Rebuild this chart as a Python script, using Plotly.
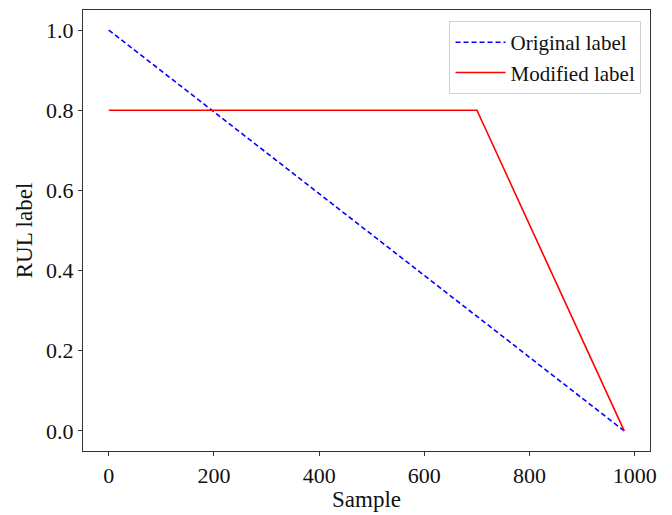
import plotly.graph_objects as go

orig_x = [0, 980]
orig_y = [1.0, 0.0]
mod_x = [0, 700, 980]
mod_y = [0.8, 0.8, 0.0]
x_ticks = [0, 200, 400, 600, 800, 1000]
y_ticks = [0.0, 0.2, 0.4, 0.6, 0.8, 1.0]

fig = go.Figure()
fig.add_trace(go.Scatter(x=orig_x, y=orig_y, mode="lines", name="Original label",
                         line=dict(color="#0000ff", dash="5px,3px", width=1.6)))
fig.add_trace(go.Scatter(x=mod_x, y=mod_y, mode="lines", name="Modified label",
                         line=dict(color="#ff0000", width=1.6)))

font = "Liberation Serif, Times New Roman, serif"
axis_common = dict(showgrid=False, zeroline=False, showline=True, mirror=True,
                   linecolor="#333333", linewidth=1.2, ticks="outside", ticklen=4,
                   tickcolor="#333333", tickfont=dict(family=font, size=22, color="#111"))
fig.update_layout(
    width=672, height=515,
    margin=dict(l=83, r=22, t=9, b=59),
    plot_bgcolor="white", paper_bgcolor="white",
    font=dict(family=font, color="#111"),
    showlegend=True,
    legend=dict(x=0.985, y=0.975, xanchor="right", yanchor="top",
                bgcolor="rgba(255,255,255,0.9)", bordercolor="#d0d0d0", borderwidth=1,
                itemwidth=50,
                font=dict(family=font, size=21, color="#111"), tracegroupgap=2),
    xaxis=dict(range=[-49, 1029], tickvals=x_ticks,
               title=dict(text="Sample", font=dict(family=font, size=23), standoff=2),
               **axis_common),
    yaxis=dict(range=[-0.05, 1.05], tickvals=y_ticks, tickformat=".1f",
               title=dict(text="RUL label", font=dict(family=font, size=23), standoff=6),
               **axis_common),
)
fig.write_html("out.html")
